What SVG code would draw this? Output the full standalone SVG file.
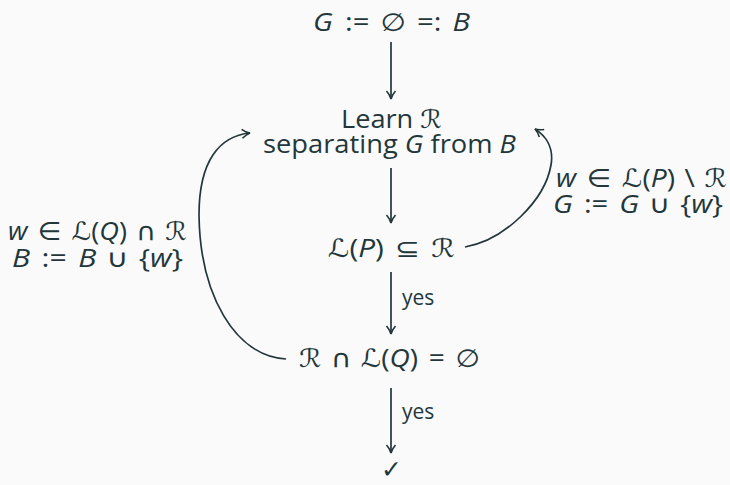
<svg xmlns="http://www.w3.org/2000/svg" width="730" height="485" viewBox="0 0 730 485">
<defs>
<style>
text{font-family:"Open Sans","DejaVu Sans",sans-serif;fill:#23373b;font-size:25px;}
.i{font-style:italic;}
.s{font-family:"DejaVu Sans",sans-serif;font-style:italic;}
.lbl{font-size:21px;}
.c{fill:none;stroke:#23373b;stroke-width:1.7;}
</style>
<marker id="ah" viewBox="0 0 12 12" refX="10" refY="6" markerWidth="12" markerHeight="12" markerUnits="userSpaceOnUse" orient="auto">
<path d="M2 1.5 Q6 5 10 6 Q6 7 2 10.5" fill="none" stroke="#23373b" stroke-width="1.6"/>
</marker>
</defs>
<rect width="730" height="485" fill="#fafafa"/>
<g id="start"><text x="313" y="31" textLength="157" lengthAdjust="spacingAndGlyphs"><tspan class="i">G</tspan><tspan dx="4"> := </tspan><tspan dx="3">∅</tspan><tspan dx="3"> =: </tspan><tspan class="i" dx="3">B</tspan></text></g>
<g id="learn"><text x="341" y="128" textLength="101" lengthAdjust="spacingAndGlyphs">Learn <tspan class="s">ℛ</tspan></text>
<text x="263" y="153" textLength="253" lengthAdjust="spacingAndGlyphs">separating <tspan class="i">G</tspan> from <tspan class="i">B</tspan></text></g>
<g id="subset"><text x="328" y="257" textLength="127" lengthAdjust="spacingAndGlyphs"><tspan class="s">ℒ</tspan>(<tspan class="i">P</tspan>)<tspan dx="3"> ⊆ </tspan><tspan class="s" dx="3">ℛ</tspan></text></g>
<g id="inter"><text x="299" y="367" textLength="181" lengthAdjust="spacingAndGlyphs"><tspan class="s">ℛ</tspan><tspan dx="2"> ∩ </tspan><tspan class="s" dx="2">ℒ</tspan>(<tspan class="i">Q</tspan>)<tspan dx="3"> = </tspan><tspan dx="3">∅</tspan></text></g>
<g id="done"><text x="381" y="478" font-size="26" font-family="DejaVu Sans">✓</text></g>
<g id="connectors">
<line class="c" x1="391" y1="42" x2="391" y2="99" marker-end="url(#ah)"/>
<line class="c" x1="391" y1="168" x2="391" y2="223" marker-end="url(#ah)"/>
<line class="c" x1="391" y1="272" x2="391" y2="334" marker-end="url(#ah)"/>
<line class="c" x1="391" y1="388" x2="391" y2="453" marker-end="url(#ah)"/>
<path class="c" d="M286 359 C235 356 200 295 199 215 C199 160 220 136 250 133" marker-end="url(#ah)"/>
<path class="c" d="M465 247 C505 240 545 200 551 165 C554 148 546 136 535 129" marker-end="url(#ah)"/>
<text class="lbl" x="402" y="305">yes</text>
<text class="lbl" x="402" y="419">yes</text>
<text x="8" y="240" textLength="179" lengthAdjust="spacingAndGlyphs"><tspan class="i">w</tspan><tspan dx="3"> ∈ </tspan><tspan class="s" dx="3">ℒ</tspan>(<tspan class="i">Q</tspan>)<tspan dx="2"> ∩ </tspan><tspan class="s" dx="2">ℛ</tspan></text>
<text x="12" y="267" textLength="171" lengthAdjust="spacingAndGlyphs"><tspan class="i">B</tspan><tspan dx="3"> := </tspan><tspan class="i" dx="3">B</tspan><tspan dx="2"> ∪ </tspan><tspan dx="2">{</tspan><tspan class="i">w</tspan>}</text>
<text x="556" y="187" textLength="171" lengthAdjust="spacingAndGlyphs"><tspan class="i">w</tspan><tspan dx="3"> ∈ </tspan><tspan class="s" dx="3">ℒ</tspan>(<tspan class="i">P</tspan>)<tspan dx="2"> \ </tspan><tspan class="s" dx="2">ℛ</tspan></text>
<text x="553" y="213" textLength="170" lengthAdjust="spacingAndGlyphs"><tspan class="i">G</tspan><tspan dx="3"> := </tspan><tspan class="i" dx="3">G</tspan><tspan dx="2"> ∪ </tspan><tspan dx="2">{</tspan><tspan class="i">w</tspan>}</text>
</g>
</svg>
